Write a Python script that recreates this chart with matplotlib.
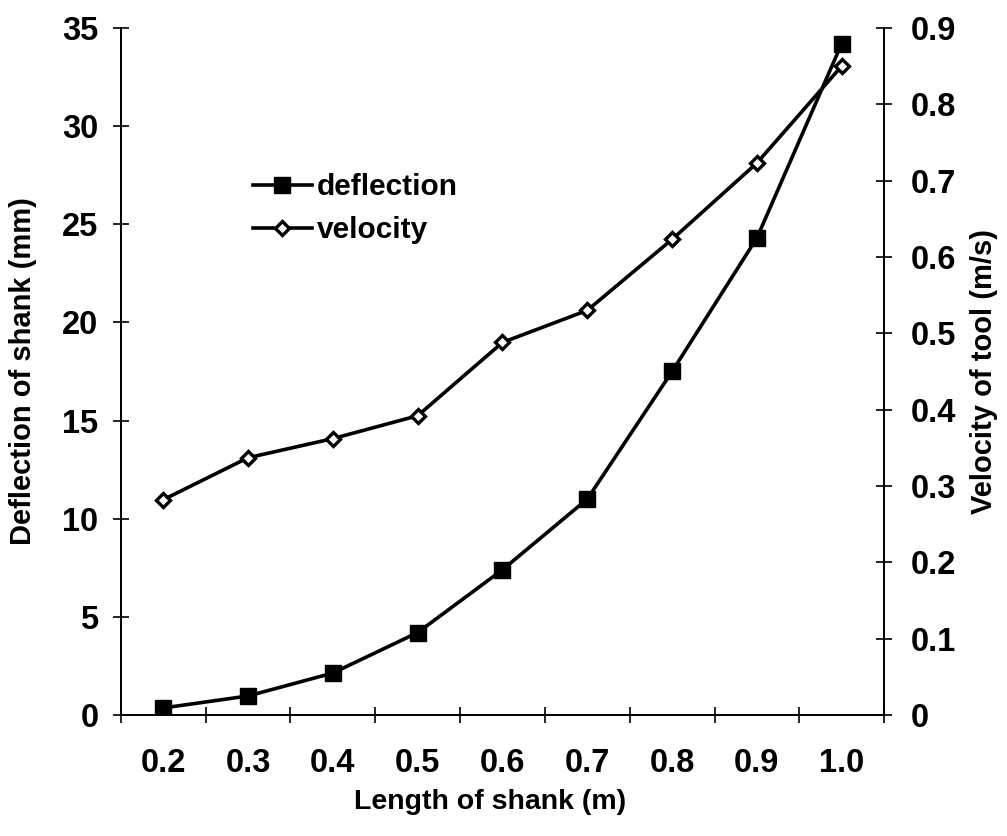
import matplotlib
matplotlib.use("Agg")
import matplotlib.pyplot as plt

plt.rcParams['font.family'] = ['Liberation Sans', 'DejaVu Sans']
plt.rcParams['font.weight'] = 'bold'
plt.rcParams['axes.labelweight'] = 'bold'

lengths = ["0.2", "0.3", "0.4", "0.5", "0.6", "0.7", "0.8", "0.9", "1.0"]
deflection = [0.36, 0.97, 2.14, 4.2, 7.4, 11.0, 17.5, 24.3, 34.2]
velocity = [0.282, 0.337, 0.362, 0.392, 0.488, 0.530, 0.623, 0.723, 0.850]

left_ticks = [0, 5, 10, 15, 20, 25, 30, 35]
right_ticks = [0, 0.1, 0.2, 0.3, 0.4, 0.5, 0.6, 0.7, 0.8, 0.9]
right_labels = ["0", "0.1", "0.2", "0.3", "0.4", "0.5", "0.6", "0.7", "0.8", "0.9"]

fig = plt.figure(figsize=(10.07, 8.36), dpi=100)
ax = fig.add_axes([0.120, 0.1447, 0.758, 0.822])
ax2 = ax.twinx()

x = list(range(len(lengths)))
l1, = ax.plot(x, deflection, color='black', lw=2.6, marker='s', ms=11,
              mfc='black', mec='black', label='deflection', zorder=3)
l2, = ax2.plot(x, velocity, color='black', lw=2.6, marker='D', ms=7.5,
               mfc='white', mec='black', mew=2.4, label='velocity', zorder=3)

ax.set_xlim(-0.5, len(lengths) - 0.5)
ax.set_ylim(0, 35)
ax2.set_ylim(0, 0.9)

# category labels sit between the boundary ticks
ax.set_xticks([i - 0.5 for i in range(len(lengths) + 1)])
ax.set_xticklabels([])
ax.set_xticks(x, minor=True)
ax.set_xticklabels(lengths, minor=True)
ax.tick_params(axis='x', which='minor', length=0, pad=24, labelsize=23.5)
ax.tick_params(axis='x', which='major', direction='inout', length=12, width=1.2)

ax.set_yticks(left_ticks)
ax.set_yticklabels([str(v) for v in left_ticks])
ax.tick_params(axis='y', direction='inout', length=12, width=1.2, labelsize=23.5, pad=10)

ax2.set_yticks(right_ticks)
ax2.set_yticklabels(right_labels)
ax2.tick_params(axis='y', direction='inout', length=12, width=1.2, labelsize=23.5, pad=13)

for a in (ax, ax2):
    a.spines['top'].set_visible(False)
    for s in ('left', 'right', 'bottom'):
        a.spines[s].set_linewidth(1.3)

ax.set_xlabel("Length of shank (m)", fontsize=20.5)
ax.xaxis.set_label_coords(0.484, -0.107)
ax.set_ylabel("Deflection of shank (mm)", fontsize=21)
ax.yaxis.set_label_coords(-0.110, 0.5)
ax2.set_ylabel("Velocity of tool (m/s)", fontsize=21)
ax2.yaxis.set_label_coords(1.113, 0.5)

fig.legend(handles=[l1, l2], loc='upper left', bbox_to_anchor=(0.239, 0.807),
           frameon=False, fontsize=21.5, handlelength=2.0, handletextpad=0.15,
           labelspacing=0.5, borderaxespad=0)

fig.savefig("out.png", dpi=100)
